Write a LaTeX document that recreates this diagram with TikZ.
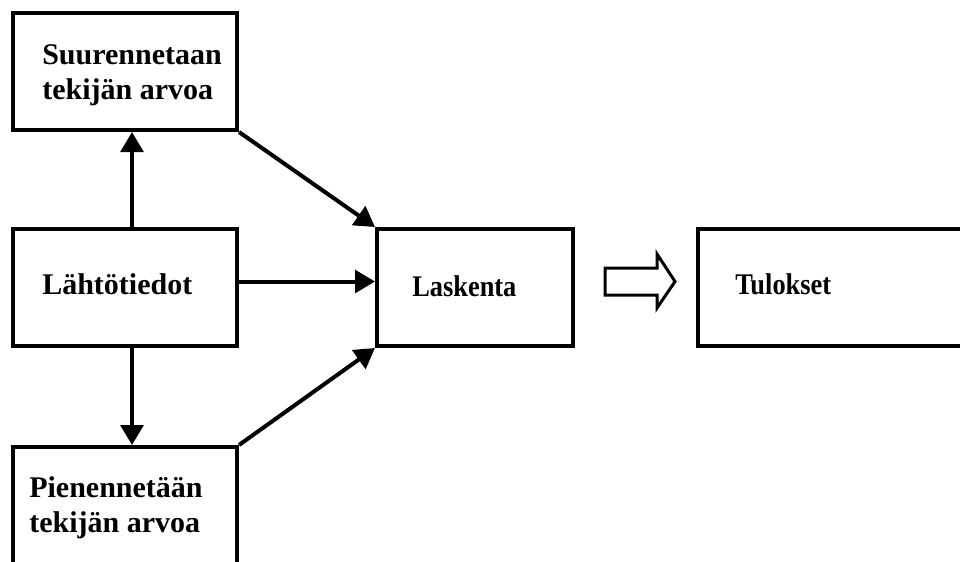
\documentclass[tikz,border=0pt]{standalone}
\usepackage{fontspec}
\setmainfont{Liberation Serif}
\usetikzlibrary{arrows.meta,positioning}

\tikzset{
	box/.style={draw, line width=3pt, minimum width=168pt, minimum height=87.75pt, inner sep=0pt},
	lbl/.style={align=left, inner sep=0pt, font=\fontsize{22.5}{26.25}\selectfont\bfseries},
	narrow/.style={lbl, font=\fontsize{22.5}{26.25}\selectfont\bfseries\addfontfeature{FakeStretch=0.88}},
	arr/.style={-{Triangle[length=15pt,width=17pt]}, line width=3pt},
}

\begin{document}
\begin{tikzpicture}[x=0.75pt, y=-0.75pt]
		\useasboundingbox (0,0) rectangle (960,561);
		
		\node [box] (suur) at (125,71.5) {};
		\node [box] (lahto) at (125,287.5) {};
		\node [box] (pien) at (125,505.5) {};
		\node [box, minimum width=147pt] (lask) at (475,287.5) {};
		\node [box, minimum width=225pt] (tulos) at (848,287.5) {};
		
		\node [lbl, anchor=west] (suur-txt) at (42,75) {Suurennetaan\\tekijän arvoa};
		\node [lbl, anchor=base west] (lahto-txt) at (42,294) {Lähtötiedot};
		\node [lbl, anchor=west] (pien-txt) at (29,508) {Pienennetään\\tekijän arvoa};
		\node [narrow, anchor=base west] (lask-txt) at (412,296) {Laskenta};
		\node [narrow, anchor=base west] (tulos-txt) at (735,294) {Tulokset};
		
		\draw [arr] ([xshift=5.25pt]lahto.north) -- ([xshift=5.25pt]suur.south);
		\draw [arr] ([xshift=5.25pt]lahto.south) -- ([xshift=5.25pt]pien.north);
		\draw [arr] ([yshift=4.5pt]lahto.east) -- ([yshift=4.5pt]lask.west);
		\draw [arr] (suur.south east) -- (lask.north west);
		\draw [arr] (pien.north east) -- (lask.south west);
		
		% hollow arrow to results
		\draw [line width=2.25pt, line join=miter] (605,268) -- (657,268) -- (657,254)
		-- (675,281.5) -- (657,308) -- (657,295) -- (605,295) -- cycle;

\end{tikzpicture}
\end{document}
